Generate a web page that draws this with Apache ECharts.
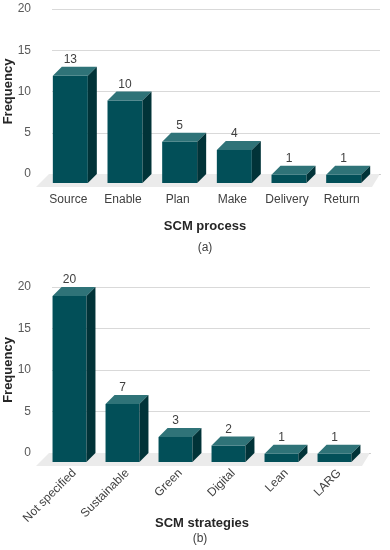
<!DOCTYPE html>
<html><head><meta charset="utf-8">
<script src="https://cdn.jsdelivr.net/npm/echarts@6/dist/echarts.min.js"></script>
<style>html,body{margin:0;padding:0;background:#fff}#c{width:390px;height:550px}</style>
</head><body><div id="c"></div>
<script>
const processCategories = ['Source','Enable','Plan','Make','Delivery','Return'];
const processValues = [13,10,5,4,1,1];
const strategyCategories = ['Not specified','Sustainable','Green','Digital','Lean','LARG'];
const strategyValues = [20,7,3,2,1,1];
const yTicks = {min:0, max:20, interval:5};

const FONT = '"Liberation Sans", Arial, sans-serif';
const FRONT = '#024f58', TOP = '#2f7378', SIDE = '#013338', FLOOR = '#ebebeb';
const DX = 9, DY = 9;

function renderBar(params, api) {
  const idx = api.value(0), v = api.value(1);
  const back = api.coord([idx, v]);
  const base = api.coord([idx, 0]);
  const bw = api.size([1, 0])[0] * 0.64;
  const fx0 = back[0] - DX - bw / 2, fx1 = fx0 + bw;
  const fTop = back[1] + DY, fBot = base[1] + DY;
  return {
    type: 'group',
    children: [
      {type:'rect', shape:{x:fx0, y:fTop, width:bw, height:fBot - fTop}, style:{fill:FRONT}},
      {type:'polygon', shape:{points:[[fx0,fTop],[fx1,fTop],[fx1+DX,back[1]],[fx0+DX,back[1]]]}, style:{fill:TOP}},
      {type:'polygon', shape:{points:[[fx1,fTop],[fx1+DX,back[1]],[fx1+DX,base[1]],[fx1,fBot]]}, style:{fill:SIDE}},
      {type:'text', x: fx0 + bw / 2, y: back[1] - 7,
       style:{text:String(v), align:'center', verticalAlign:'middle', fill:'#404040', font:'12px ' + FONT}}
    ]
  };
}
function renderFloor(params, api) {
  const cs = params.coordSys;
  const y0 = cs.y + cs.height, x0 = cs.x, x1 = cs.x + cs.width;
  return {type:'polygon', shape:{points:[[x0-3,y0],[x1,y0],[x1-8,y0+13],[x0-16,y0+13]]}, style:{fill:FLOOR}};
}
function barData(vals) { return vals.map((v, i) => [i, v]); }

const chart = echarts.init(document.getElementById('c'), null, {renderer:'canvas'});
const yAxisBase = (gi) => ({
  type:'value', gridIndex:gi, min:yTicks.min, max:yTicks.max, interval:yTicks.interval,
  name:'Frequency', nameLocation:'middle', nameGap:37, nameMoveOverlap:false,
  nameTextStyle:{fontFamily:FONT, fontSize:13, fontWeight:'bold', color:'#262626'},
  axisLine:{show:false}, axisTick:{show:false},
  axisLabel:{fontFamily:FONT, fontSize:12, color:'#595959', margin:21},
  splitLine:{lineStyle:{color:'#d9d9d9', width:1}}
});
chart.setOption({
  animation:false,
  grid:[
    {left:52, top:9, width:328, height:165, containLabel:false, outerBoundsMode:'none'},
    {left:52, top:287, width:318, height:166, containLabel:false, outerBoundsMode:'none'}
  ],
  xAxis:[
    {type:'category', gridIndex:0, data:processCategories,
     axisLine:{lineStyle:{color:'#868686'}}, axisTick:{show:false},
     axisLabel:{interval:0, hideOverlap:false, fontFamily:FONT, fontSize:12, color:'#404040', margin:20, padding:[0,22,0,0]}},
    {type:'category', gridIndex:1, data:strategyCategories,
     axisLine:{lineStyle:{color:'#868686'}}, axisTick:{show:false},
     axisLabel:{interval:0, hideOverlap:false, fontFamily:FONT, fontSize:12, color:'#404040', rotate:45, margin:14, padding:[0,6,0,0]}}
  ],
  yAxis:[yAxisBase(0), yAxisBase(1)],
  series:[
    {type:'custom', xAxisIndex:0, yAxisIndex:0, data:[0], renderItem:renderFloor, z:1, silent:true},
    {type:'custom', xAxisIndex:0, yAxisIndex:0, data:barData(processValues), encode:{x:0,y:1}, renderItem:renderBar, z:3},
    {type:'custom', xAxisIndex:1, yAxisIndex:1, data:[0], renderItem:renderFloor, z:1, silent:true},
    {type:'custom', xAxisIndex:1, yAxisIndex:1, data:barData(strategyValues), encode:{x:0,y:1}, renderItem:renderBar, z:3}
  ],
  graphic:[
    {type:'text', x:205, y:226, style:{text:'SCM process', align:'center', verticalAlign:'middle', fill:'#262626', font:'bold 13px ' + FONT}},
    {type:'text', x:205, y:248, style:{text:'(a)', align:'center', verticalAlign:'middle', fill:'#404040', font:'12px ' + FONT}},
    {type:'text', x:202, y:523, style:{text:'SCM strategies', align:'center', verticalAlign:'middle', fill:'#262626', font:'bold 13px ' + FONT}},
    {type:'text', x:200, y:539, style:{text:'(b)', align:'center', verticalAlign:'middle', fill:'#404040', font:'12px ' + FONT}}
  ]
});
</script></body></html>
